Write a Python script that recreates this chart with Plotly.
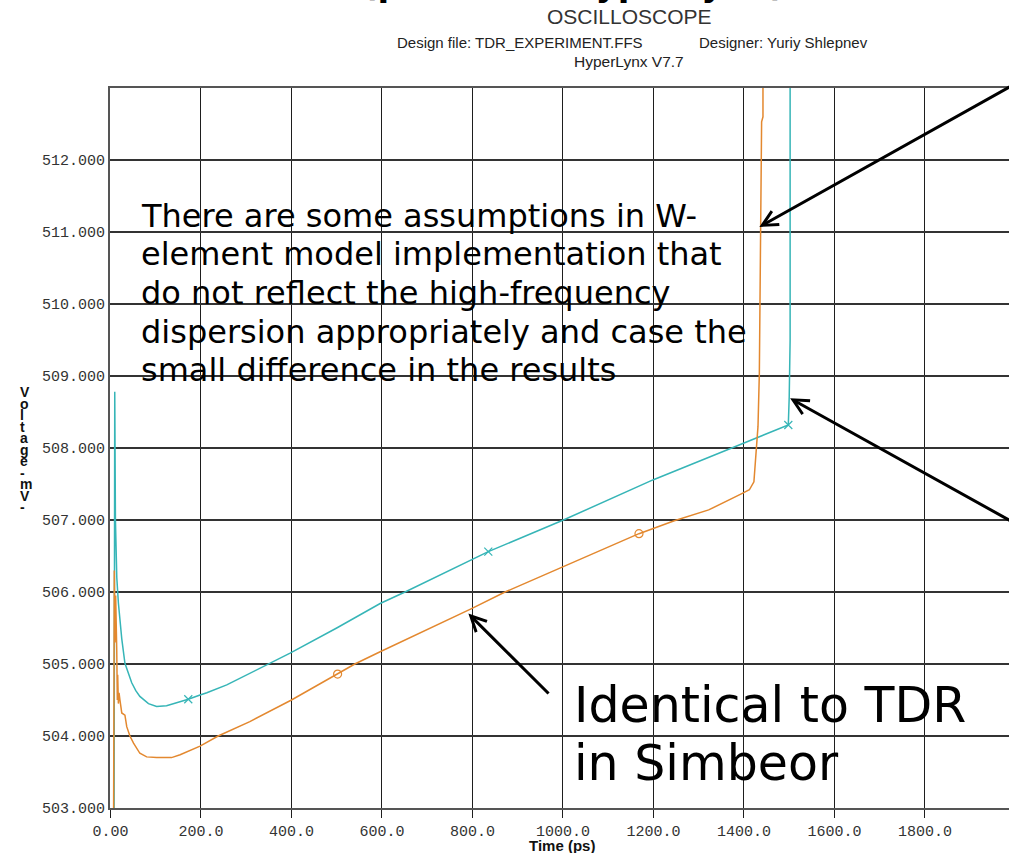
import plotly.graph_objects as go

"""
HyperLynx oscilloscope view: TDR of two line models, zoomed in around 500 mV
"""

# x axis ticks (ps)
x_ticks = [0, 200, 400, 600, 800, 1000, 1200, 1400, 1600, 1800]
x_tick_text = ["0.00", "200.0", "400.0", "600.0", "800.0", "1000.0",
               "1200.0", "1400.0", "1600.0", "1800.0"]

# y axis ticks (mV)
y_ticks = [503, 504, 505, 506, 507, 508, 509, 510, 511, 512]
y_tick_text = ["503.000", "504.000", "505.000", "506.000", "507.000",
               "508.000", "509.000", "510.000", "511.000", "512.000"]

# teal waveform
teal_t = [8, 9.5, 11, 14, 17.5, 25, 32, 40, 47, 56, 65, 84, 102, 124, 147,
          172, 198, 213, 257, 308, 353, 397, 500, 596, 651, 798, 835, 1001,
          1200, 1373, 1498, 1500, 1502, 1502]
teal_v = [502.5, 508.78, 507.0, 506.2, 505.85, 505.35, 505.01, 504.86, 504.74,
          504.63, 504.55, 504.45, 504.41, 504.42, 504.46, 504.51, 504.57, 504.6,
          504.71, 504.87, 505.01, 505.15, 505.5, 505.84, 506.0, 506.44, 506.56,
          507.0, 507.56, 508.0, 508.32, 508.71, 509.5, 514.0]

# orange waveform
orange_t = [5, 7, 8.5, 10, 11.5, 12.5, 13.9, 15.2, 16, 17.5, 19, 21, 25, 32,
            36, 43, 51, 65, 80, 102, 135, 154, 198, 238, 308, 400, 502, 540,
            596, 691, 798, 872, 1001, 1060, 1168, 1246, 1322, 1393, 1412, 1422,
            1427, 1431, 1434, 1436, 1438, 1439, 1442, 1442]
orange_v = [502.5, 503.0, 506.3, 505.3, 505.95, 505.2, 505.19, 504.5, 504.85,
            504.45, 504.6, 504.5, 504.32, 504.29, 504.13, 504.0, 503.9, 503.76,
            503.71, 503.7, 503.7, 503.74, 503.86, 504.0, 504.2, 504.5, 504.86,
            505.0, 505.17, 505.45, 505.77, 506.0, 506.35, 506.51, 506.81,
            506.99, 507.14, 507.36, 507.42, 507.53, 507.97, 508.3, 509.04,
            510.38, 511.03, 512.53, 512.6, 514.0]

# symbols drawn on the traces
teal_mark_t = [172, 835, 1498]
teal_mark_v = [504.51, 506.56, 508.32]
orange_mark_t = [502, 1168]
orange_mark_v = [504.86, 506.81]

teal = "#36b5b7"
orange = "#e3882f"

# plot box in page pixels (used to place the paper annotations)
L, R, T, B = 110, 1009, 88, 808


def px(x):
    return (x - L) / (R - L)


def py(y):
    return (B - y) / (B - T)


fig = go.Figure()
fig.add_trace(go.Scatter(x=teal_t, y=teal_v, mode="lines",
                         line=dict(color=teal, width=1.5)))
fig.add_trace(go.Scatter(x=orange_t, y=orange_v, mode="lines",
                         line=dict(color=orange, width=1.5)))
fig.add_trace(go.Scatter(x=teal_mark_t, y=teal_mark_v, mode="markers",
                         marker=dict(symbol="x-thin-open", size=8, color=teal,
                                     line=dict(color=teal, width=1.2))))
fig.add_trace(go.Scatter(x=orange_mark_t, y=orange_mark_v, mode="markers",
                         marker=dict(symbol="circle-open", size=8, color=orange,
                                     line=dict(color=orange, width=1.2))))

annotations = []

# header of the HyperLynx window
annotations.append(dict(text="OSCILLOSCOPE", x=px(629), y=py(17),
                        font=dict(family="Liberation Sans", size=21, color="#333")))
annotations.append(dict(text="Design file: TDR_EXPERIMENT.FFS", x=px(395), y=py(42),
                        xanchor="left", font=dict(family="Liberation Sans", size=15, color="#222")))
annotations.append(dict(text="Designer: Yuriy Shlepnev", x=px(697), y=py(42),
                        xanchor="left", font=dict(family="Liberation Sans", size=15, color="#222")))
annotations.append(dict(text="HyperLynx V7.7", x=px(629), y=py(62),
                        font=dict(family="Liberation Sans", size=15.5, color="#222")))

# axis titles
annotations.append(dict(text="<b>Time (ps)</b>", x=px(562), y=py(845),
                        font=dict(family="Liberation Sans", size=15, color="#111")))
for i, ch in enumerate("Voltage-mV-"):
    annotations.append(dict(text="<b>" + ch + "</b>", x=px(18), y=py(392 + 11.5 * i),
                            font=dict(family="Liberation Sans", size=14, color="#111")))

# slide notes
note_lines = ["There are some assumptions in W-",
              "element model implementation that",
              "do not reflect the high-frequency",
              "dispersion appropriately and case the",
              "small difference in the results"]
for i, line in enumerate(note_lines):
    annotations.append(dict(text=line, x=px(139), y=py(216 + 38.5 * i),
                            xanchor="left",
                            font=dict(family="DejaVu Sans", size=32, color="black")))

big_lines = ["Identical to TDR", "in Simbeor"]
for i, line in enumerate(big_lines):
    annotations.append(dict(text=line, x=px(572), y=py(705 + 58.3 * i),
                            xanchor="left",
                            font=dict(family="DejaVu Sans", size=49, color="black")))

for a in annotations:
    a.update(xref="paper", yref="paper", showarrow=False, yanchor="middle")

# slide title, cut off by the top of the picture
annotations.append(dict(text="<b>(plot from HyperLynx)</b>", x=px(360), y=py(6),
                        xref="paper", yref="paper", showarrow=False,
                        xanchor="left", yanchor="bottom",
                        font=dict(family="DejaVu Sans", size=34, color="black")))

# arrows of the slide
arrows = [(1434, 511.07, 2000, 513.06),
          (1502, 508.69, 2000, 506.95),
          (791, 505.70, 971.5, 504.57)]
for x0, y0, x1, y1 in arrows:
    annotations.append(dict(text="", x=x0, y=y0, ax=x1, ay=y1,
                            xref="x", yref="y", axref="x", ayref="y",
                            showarrow=True, arrowhead=5, arrowsize=1,
                            arrowwidth=3, arrowcolor="black"))

fig.update_layout(
    width=1009, height=853,
    margin=dict(l=L, r=1009 - R, t=T, b=853 - B),
    paper_bgcolor="white", plot_bgcolor="white",
    showlegend=False,
    annotations=annotations,
)
fig.update_xaxes(range=[-1, 1985.7], tickvals=x_ticks, ticktext=x_tick_text,
                 showgrid=True, gridcolor="#1e1e1e", gridwidth=1.3,
                 zeroline=False, showline=True, linecolor="#555", linewidth=2,
                 mirror=True, ticks="outside", ticklen=8, tickcolor="#1e1e1e",
                 tickwidth=1.3,
                 tickfont=dict(family="Liberation Mono", size=15, color="#333"))
fig.update_yaxes(range=[503, 513], tickvals=y_ticks, ticktext=y_tick_text,
                 showgrid=True, gridcolor="#333", gridwidth=2,
                 zeroline=False, showline=True, linecolor="#555", linewidth=2,
                 ticks="", ticklabelstandoff=0,
                 tickfont=dict(family="Liberation Mono", size=15, color="#333"))

fig.write_html("out.html", config={"displayModeBar": False},
               post_script="document.body.style.margin='0';")
